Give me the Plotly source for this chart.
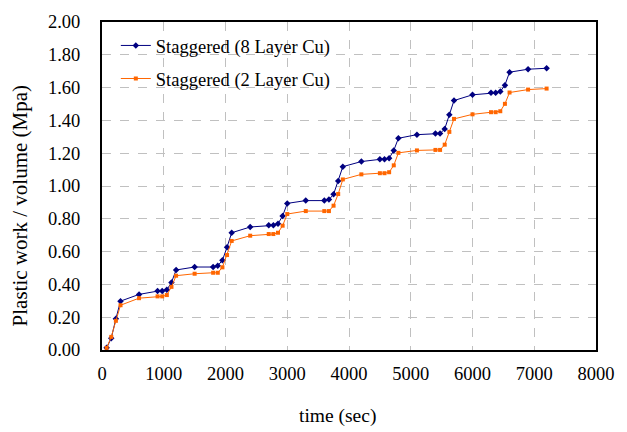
import plotly.graph_objects as go

time_s = [75, 150, 225, 300, 600, 900, 975, 1050, 1125, 1200, 1500, 1800, 1875, 1950, 2025, 2100,
          2400, 2700, 2775, 2850, 2925, 3000, 3300, 3600, 3675, 3750, 3825, 3900, 4200, 4500, 4575,
          4650, 4725, 4800, 5100, 5400, 5475, 5550, 5625, 5700, 6000, 6300, 6375, 6450, 6525, 6600,
          6900, 7200]
cu8 = [0.013, 0.072, 0.19, 0.298, 0.339, 0.359, 0.359, 0.367, 0.412, 0.488, 0.506, 0.506, 0.514,
       0.547, 0.627, 0.715, 0.750, 0.761, 0.760, 0.770, 0.817, 0.894, 0.911, 0.911, 0.917, 0.949,
       1.031, 1.118, 1.149, 1.163, 1.163, 1.169, 1.217, 1.291, 1.313, 1.320, 1.320, 1.348, 1.435,
       1.521, 1.556, 1.568, 1.568, 1.576, 1.615, 1.694, 1.712, 1.718]
cu2 = [0.013, 0.08, 0.178, 0.273, 0.316, 0.327, 0.327, 0.335, 0.385, 0.453, 0.465, 0.471, 0.471,
       0.504, 0.579, 0.665, 0.697, 0.707, 0.707, 0.715, 0.758, 0.829, 0.847, 0.847, 0.847, 0.880,
       0.951, 1.040, 1.071, 1.078, 1.078, 1.084, 1.126, 1.202, 1.217, 1.220, 1.220, 1.252, 1.330,
       1.409, 1.437, 1.450, 1.450, 1.456, 1.501, 1.570, 1.588, 1.594]

x_ticks = [0, 1000, 2000, 3000, 4000, 5000, 6000, 7000, 8000]
y_ticks = [0, 0.2, 0.4, 0.6, 0.8, 1.0, 1.2, 1.4, 1.6, 1.8, 2.0]
x_title = "time (sec)"
y_title = "Plastic work / volume (Mpa)"

FONT = "Liberation Serif, Times New Roman, serif"
W, H = 627, 432
ML, MR, MT, MB = 102, 22, 12, 82

fig = go.Figure()
fig.add_trace(go.Scatter(x=time_s, y=cu8, mode="lines+markers", name="Staggered (8 Layer Cu)",
                         legendgroup="a",
                         line=dict(color="#000080", width=1),
                         marker=dict(symbol="diamond", size=5, color="#000080")))
fig.add_trace(go.Scatter(x=time_s, y=cu2, mode="lines+markers", name="Staggered (2 Layer Cu)",
                         legendgroup="b",
                         line=dict(color="#FF6600", width=1),
                         marker=dict(symbol="square", size=4, color="#FF6600")))

axis_common = dict(showline=True, linecolor="black", linewidth=2, mirror=True,
                   showgrid=True, gridcolor="#c0c0c0", griddash="dash", gridwidth=1,
                   zeroline=False, ticks="", tickfont=dict(family=FONT, size=18.5, color="black"))

fig.update_xaxes(range=[0, 8000], tickvals=x_ticks, ticktext=[str(v) for v in x_ticks],
                 ticklabelstandoff=6, **axis_common)
fig.update_yaxes(range=[0, 2.0], tickvals=y_ticks, ticktext=[f"{v:.2f}" for v in y_ticks],
                 ticklabelstandoff=16, **axis_common)

pw, ph = W - ML - MR, H - MT - MB
fig.add_annotation(text=x_title, xref="paper", yref="paper",
                   x=(341.5 - ML) / pw, y=(H - MB - 418) / ph, xanchor="center", yanchor="middle",
                   showarrow=False, font=dict(family=FONT, size=19.5, color="black"))
fig.add_annotation(text=y_title, xref="paper", yref="paper", textangle=-90,
                   x=(18.5 - ML) / pw, y=(H - MB - 201) / ph, xanchor="center", yanchor="middle",
                   showarrow=False, font=dict(family=FONT, size=21, color="black"))

fig.update_layout(
    width=W, height=H,
    margin=dict(l=ML, r=MR, t=MT, b=MB),
    paper_bgcolor="white", plot_bgcolor="white",
    font=dict(family=FONT, size=16, color="black"),
    showlegend=True,
    legend=dict(x=0.028, y=0.985, xanchor="left", yanchor="top", bgcolor="rgba(0,0,0,0)",
                font=dict(family=FONT, size=18.5, color="black"), tracegroupgap=6, traceorder="grouped"),
)

fig.write_html("out.html")
